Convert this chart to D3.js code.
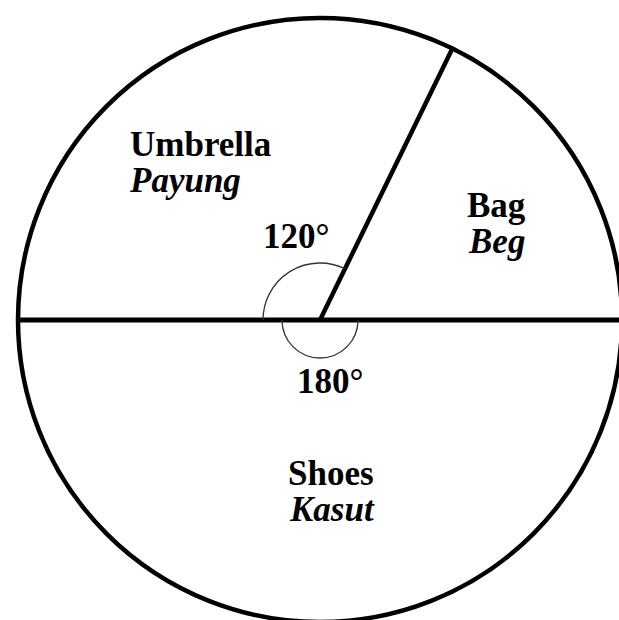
<!DOCTYPE html>
<html>
<head>
<meta charset="utf-8">
<script src="https://cdn.jsdelivr.net/npm/d3@7"></script>
<style>
  html, body { margin: 0; padding: 0; background: #fff; }
  svg { display: block; }
  text { font-family: "Liberation Serif", "Times New Roman", serif; font-weight: bold; fill: #000; }
</style>
</head>
<body>
<svg id="chart" width="619" height="620"></svg>
<script>
// Sectors in clockwise order starting from the left (9 o'clock)
const categories   = ["Umbrella", "Bag", "Shoes"];
const translations = ["Payung", "Beg", "Kasut"];
// sector sizes in degrees as drawn in the picture (labelled 120° and 180°)
const sectorDegrees = [116, 64, 180];
// angle labels shown on the chart
const angleLabels = ["120°", null, "180°"];

const W = 619, H = 620;
const cx = 320, cy = 320, R = 302;

const svg = d3.select("#chart");
const g = svg.append("g").attr("transform", `translate(${cx},${cy})`);

const pie = d3.pie().sort(null).value(d => d)
  .startAngle(-Math.PI / 2).endAngle(3 * Math.PI / 2);
const slices = pie(sectorDegrees);

// outer circle
g.append("circle").attr("r", R).attr("fill", "none")
  .attr("stroke", "#000").attr("stroke-width", 4.5);

// horizontal diameter extends to the right edge of the page
const toXY = (a, r) => [r * Math.sin(a), -r * Math.cos(a)];
const xScale = d3.scaleLinear().domain([-1, 1]).range([-R, W - cx]);
g.append("line")
  .attr("x1", toXY(slices[0].startAngle, R)[0]).attr("y1", 0)
  .attr("x2", xScale(1)).attr("y2", 0)
  .attr("stroke", "#000").attr("stroke-width", 5);

// radius dividing Umbrella and Bag
const a1 = slices[1].startAngle;
g.append("line")
  .attr("x1", 0).attr("y1", 0)
  .attr("x2", toXY(a1, R)[0]).attr("y2", toXY(a1, R)[1])
  .attr("stroke", "#000").attr("stroke-width", 4.5)
  .attr("stroke-linecap", "butt");

// angle marks
const markRadii = [57, null, 38];
slices.forEach((s, i) => {
  if (!angleLabels[i]) return;
  const r = markRadii[i];
  const p = d3.path();
  p.arc(0, 0, r, s.startAngle - Math.PI / 2, s.endAngle - Math.PI / 2, false);
  g.append("path").attr("d", p.toString())
    .attr("fill", "none").attr("stroke", "#333").attr("stroke-width", 1.3);
});

// labels (page coordinates)
const fontSize = 35;
const catPos = [[130, 156], [467, 217], [288, 485]];
const lineGap = 36;
categories.forEach((c, i) => {
  svg.append("text").attr("x", catPos[i][0]).attr("y", catPos[i][1])
    .attr("font-size", fontSize).text(c);
  svg.append("text").attr("x", catPos[i][0] + (i === 0 ? 0 : 2)).attr("y", catPos[i][1] + lineGap)
    .attr("font-size", fontSize).attr("font-style", "italic").text(translations[i]);
});
const anglePos = [[263, 248], null, [297, 393]];
angleLabels.forEach((t, i) => {
  if (!t) return;
  svg.append("text").attr("x", anglePos[i][0]).attr("y", anglePos[i][1])
    .attr("font-size", fontSize).text(t);
});
</script>
</body>
</html>
